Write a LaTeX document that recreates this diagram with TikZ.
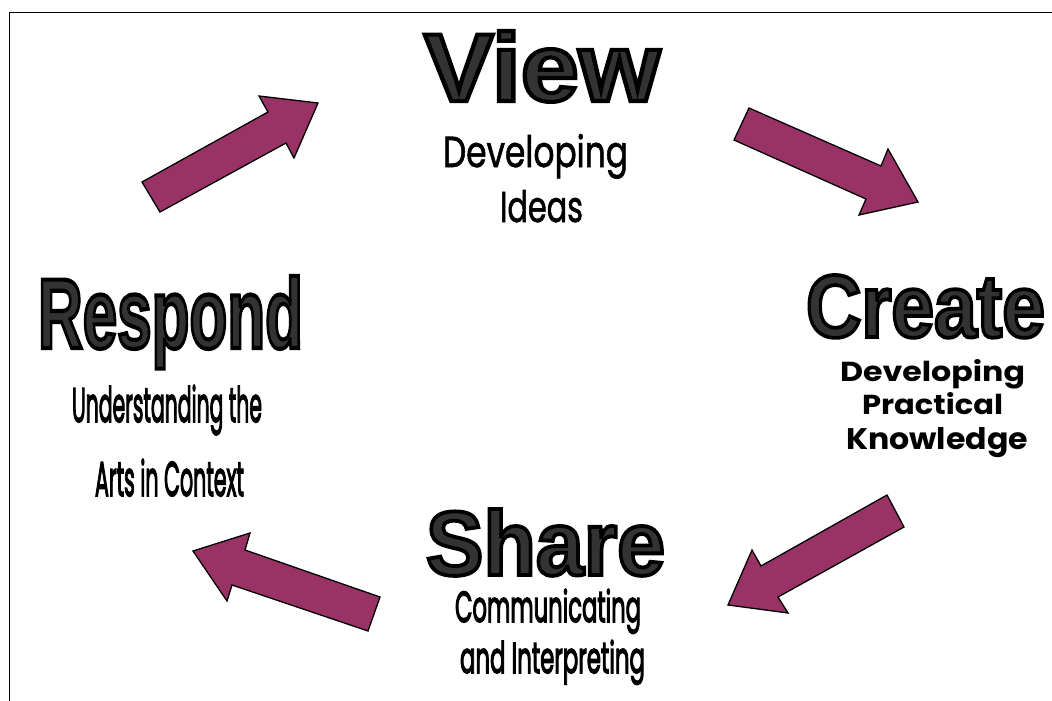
\documentclass[tikz,border=0pt]{standalone}
\usepackage{fontspec}
\usepackage{graphicx}
% Heavy heading face, outlined by stroking the glyphs
\newfontfamily\titlefont{Liberation Sans}[UprightFont={* Bold}, FakeBold=4.2]
\newfontfamily\notelight{Poppins}[FakeBold=1.6]
\newfontfamily\noteheavy{Poppins}[FakeBold=3.5]
\newfontfamily\notebold{Poppins}[UprightFont={* Bold}]
\definecolor{arrowfill}{RGB}{153,51,102}
\definecolor{titlegray}{RGB}{51,51,51}

% Outlined heading (gray fill, black stroke), stretched to a given width and cap height
\newcommand\cycletitle[3]{\resizebox{#1}{#2}{\titlefont\fontsize{100}{100}\selectfont\textcolor{titlegray}{\special{pdf:literal direct 0 0 0 RG}#3}}}
% Subheading line, stretched to a given width and height
\newcommand\cyclenote[4]{\resizebox{#1}{#2}{#3\fontsize{40}{40}\selectfont #4}}

\begin{document}
\begin{tikzpicture}[x=1pt,y=-1pt,
  blockarrow/.style={draw=black, line width=1.3pt, fill=arrowfill, line join=miter},
  frameline/.style={draw=black, line width=1.4pt},
  txt/.style={anchor=base west, inner sep=0pt, outer sep=0pt}]
\useasboundingbox (0,0) rectangle (1052,701);
\fill[white] (0,0) rectangle (1052,701);

% frame (top and left edges)
\draw[frameline] (9.5,701) -- (9.5,12.5) -- (1052,12.5);

% stage headings
\node[txt] (view)    at (424,101) {\cycletitle{236pt}{70pt}{View}};
\node[txt] (create)  at (806,337) {\cycletitle{239pt}{62pt}{Create}};
\node[txt] (share)   at (426,575) {\cycletitle{239pt}{66pt}{Share}};
\node[txt] (respond) at (38,348)  {\cycletitle{265pt}{72pt}{Respond}};

% stage descriptions
\node[txt] (viewA) at (443,167) {\cyclenote{185pt}{33pt}{\notelight}{Developing}};
\node[txt] (viewB) at (500,222) {\cyclenote{83pt}{32pt}{\notelight}{Ideas}};

\node[txt] (createA) at (840,381) {\cyclenote{185pt}{22pt}{\notebold}{Developing}};
\node[txt] (createB) at (862,414) {\cyclenote{141pt}{22pt}{\notebold}{Practical}};
\node[txt] (createC) at (846,449) {\cyclenote{182pt}{22pt}{\notebold}{Knowledge}};

\node[txt] (shareA) at (455,622) {\cyclenote{186pt}{33pt}{\noteheavy}{Communicating}};
\node[txt] (shareB) at (460,673) {\cyclenote{185pt}{33pt}{\noteheavy}{and Interpreting}};

\node[txt] (respondA) at (72,422) {\cyclenote{190pt}{37pt}{\noteheavy}{Understanding the}};
\node[txt] (respondB) at (95,496) {\cyclenote{149pt}{37pt}{\noteheavy}{Arts in Context}};

% block arrows of the cycle
\path[blockarrow] (142,182) -- (268,112) -- (259,96) -- (318,103) -- (294,158) -- (286,143) -- (160,212) -- cycle;
\path[blockarrow] (749,108) -- (881,166) -- (888,149) -- (918,202) -- (859,215) -- (866,199) -- (734,140) -- cycle;
\path[blockarrow] (887,495) -- (761,566) -- (752,550) -- (728,605) -- (788,613) -- (778,597) -- (904,527) -- cycle;
\path[blockarrow] (380,597) -- (245,550) -- (250,533) -- (193,551) -- (227,601) -- (232,585) -- (368,631) -- cycle;
\end{tikzpicture}
\end{document}
